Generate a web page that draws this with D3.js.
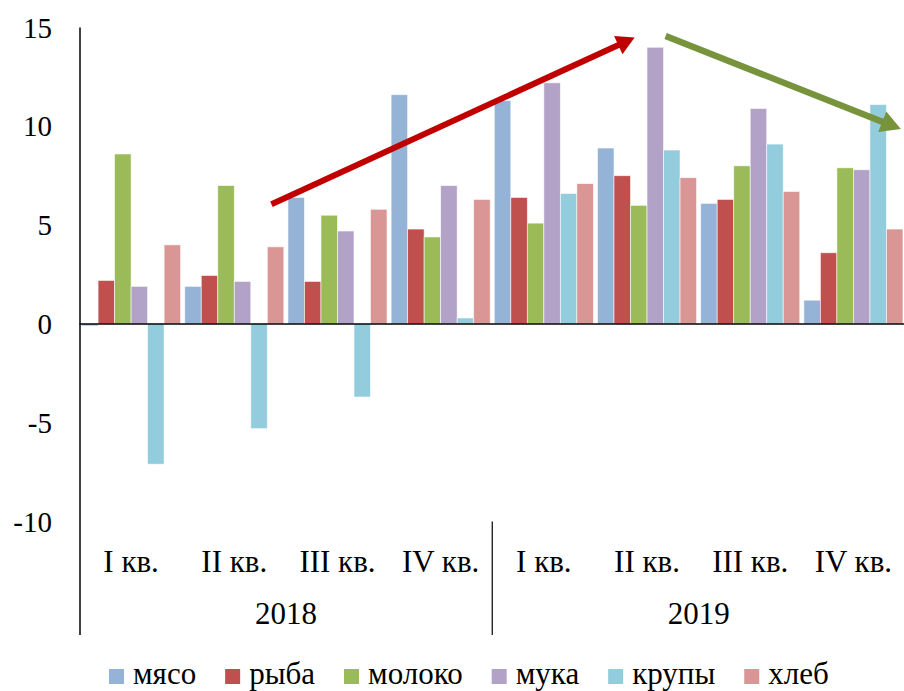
<!DOCTYPE html>
<html>
<head>
<meta charset="utf-8">
<script src="https://cdn.jsdelivr.net/npm/d3@7"></script>
<style>
  body { margin: 0; background: #fff; }
</style>
</head>
<body>
<div id="chart"></div>
<script>
// --- DATA ---
const quarters = ["I кв.", "II кв.", "III кв.", "IV кв.", "I кв.", "II кв.", "III кв.", "IV кв."];
const years = ["2018", "2019"];
const seriesNames = ["мясо", "рыба", "молоко", "мука", "крупы", "хлеб"];
const seriesColors = ["#95B3D7", "#C0504D", "#9BBB59", "#B2A2C7", "#93CDDD", "#D99694"];
const myaso  = [-0.1, 1.9, 6.4, 11.6, 11.3, 8.9, 6.1, 1.2];
const ryba   = [2.2, 2.45, 2.15, 4.8, 6.4, 7.5, 6.3, 3.6];
const moloko = [8.6, 7.0, 5.5, 4.4, 5.1, 6.0, 8.0, 7.9];
const muka   = [1.9, 2.15, 4.7, 7.0, 12.2, 14.0, 10.9, 7.8];
const krupy  = [-7.1, -5.3, -3.7, 0.3, 6.6, 8.8, 9.1, 11.1];
const khleb  = [4.0, 3.9, 5.8, 6.3, 7.1, 7.4, 6.7, 4.8];
const yTicks = [-10, -5, 0, 5, 10, 15];
// trend arrows in data units: [group position, value]
const redArrow = [[1.86, 6.06], [5.38, 14.49]];
const greenArrow = [[5.68, 14.57], [7.96, 9.86]];

const seriesValues = [myaso, ryba, moloko, muka, krupy, khleb];
const serif = "'Liberation Serif', 'Times New Roman', serif";

// --- SETUP ---
const width = 904, height = 691;
const svg = d3.select("#chart").append("svg").attr("width", width).attr("height", height)
    .attr("font-family", serif);

const plotLeft = 79.5, plotRight = 905;
const x0 = d3.scaleBand().domain(d3.range(quarters.length)).range([plotLeft, plotRight])
    .paddingInner(0.04).paddingOuter(0.02);
const x1 = d3.scaleBand().domain(d3.range(seriesNames.length)).range([0, x0.bandwidth()]);
const xPos = d3.scaleLinear().domain([0, quarters.length]).range([plotLeft, plotRight]);
const y = d3.scaleLinear().domain([-10, 15]).range([521.5, 27.5]);

// --- BARS ---
const groups = svg.append("g").selectAll("g").data(quarters).join("g")
    .attr("transform", (d, i) => `translate(${x0(i)},0)`);
groups.selectAll("rect")
    .data((d, i) => seriesValues.map((vals, s) => ({ s, v: vals[i] })))
    .join("rect")
    .attr("x", d => x1(d.s))
    .attr("width", x1.bandwidth())
    .attr("y", d => y(Math.max(0, d.v)))
    .attr("height", d => Math.abs(y(d.v) - y(0)))
    .attr("fill", d => seriesColors[d.s])
    .attr("stroke", "#fff").attr("stroke-width", 0.8).attr("stroke-opacity", 0.7);

// --- AXES ---
const axisBottom = 635;
svg.append("line").attr("x1", xPos(0)).attr("x2", width).attr("y1", y(0)).attr("y2", y(0))
    .attr("stroke", "#000").attr("stroke-width", 1.5);
svg.append("line").attr("x1", 80).attr("x2", 80).attr("y1", y(15)).attr("y2", axisBottom)
    .attr("stroke", "#000").attr("stroke-width", 1.5);
svg.append("line").attr("x1", xPos(4)).attr("x2", xPos(4)).attr("y1", y(-10)).attr("y2", axisBottom)
    .attr("stroke", "#000").attr("stroke-width", 1.2);

svg.append("g").selectAll("text").data(yTicks).join("text")
    .attr("x", 52).attr("y", d => y(d)).attr("dy", "0.35em")
    .attr("text-anchor", "end").attr("font-size", 29)
    .text(d => d);

svg.append("g").selectAll("text").data(quarters).join("text")
    .attr("x", (d, i) => x0(i) + x0.bandwidth() / 2).attr("y", 572)
    .attr("text-anchor", "middle").attr("font-size", 31)
    .text(d => d);

svg.append("g").selectAll("text").data(years).join("text")
    .attr("x", (d, i) => (xPos(i * 4) + xPos(i * 4 + 4)) / 2).attr("y", 624)
    .attr("text-anchor", "middle").attr("font-size", 31)
    .text(d => d);

// --- ARROWS ---
function drawArrow(pts, color, lw, headLen, headHalf) {
    const [sx, sy] = [xPos(pts[0][0]), y(pts[0][1])];
    const [tx, ty] = [xPos(pts[1][0]), y(pts[1][1])];
    const len = Math.hypot(tx - sx, ty - sy);
    const ux = (tx - sx) / len, uy = (ty - sy) / len;
    const bx = tx - ux * headLen, by = ty - uy * headLen;
    svg.append("line").attr("x1", sx).attr("y1", sy).attr("x2", bx + ux * 2).attr("y2", by + uy * 2)
        .attr("stroke", color).attr("stroke-width", lw);
    svg.append("path")
        .attr("d", `M${tx},${ty}L${bx - uy * headHalf},${by + ux * headHalf}L${bx + uy * headHalf},${by - ux * headHalf}Z`)
        .attr("fill", color);
}
drawArrow(redArrow, "#C00000", 6, 18, 10);
drawArrow(greenArrow, "#77933C", 6.5, 20, 11);

// --- LEGEND ---
const legend = svg.append("g").attr("transform", "translate(109,669)");
let lx = 0;
seriesNames.forEach((name, i) => {
    const item = legend.append("g").attr("transform", `translate(${lx},0)`);
    item.append("rect").attr("width", 15).attr("height", 15).attr("fill", seriesColors[i]);
    const t = item.append("text").attr("x", 24).attr("y", 15).attr("font-size", 31).text(name);
    lx += 24 + t.node().getComputedTextLength() + 29;
});
</script>
</body>
</html>
